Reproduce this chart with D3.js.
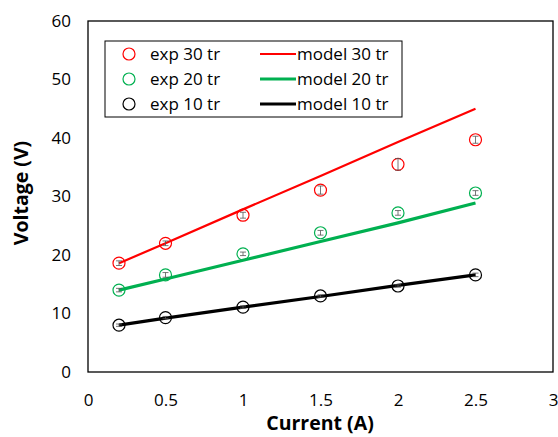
<!DOCTYPE html>
<html>
<head>
<meta charset="utf-8">
<script src="https://cdn.jsdelivr.net/npm/d3@7"></script>
<style>
body { margin: 0; background: #fff; }
text { font-family: "Open Sans", "Liberation Sans", sans-serif; fill: #000; }
</style>
</head>
<body>
<div id="chart"></div>
<script>
const currents = [0.2, 0.5, 1, 1.5, 2, 2.5];
const exp30 = [18.6, 22.0, 26.8, 31.1, 35.5, 39.7];
const exp20 = [14.0, 16.6, 20.2, 23.8, 27.2, 30.6];
const exp10 = [8.0, 9.3, 11.1, 13.0, 14.7, 16.6];
const err30 = [0.4, 0.4, 0.5, 0.7, 1.0, 0.6];
const err20 = [0.3, 0.4, 0.3, 0.4, 0.4, 0.4];
const err10 = [0.2, 0.2, 0.2, 0.2, 0.2, 0.3];
const model30 = [18.6, 22.0, 27.8, 33.5, 39.3, 45.0];
const model20 = [14.0, 15.9, 19.1, 22.3, 25.5, 28.9];
const model10 = [8.0, 9.2, 11.1, 12.9, 14.8, 16.6];
const xTicks = [0, 0.5, 1, 1.5, 2, 2.5, 3];
const yTicks = [0, 10, 20, 30, 40, 50, 60];

const series = [
	{ name: '30 tr', color: '#ff0000', width: 2.2, exp: exp30, err: err30, model: model30 },
	{ name: '20 tr', color: '#00b050', width: 3.2, exp: exp20, err: err20, model: model20 },
	{ name: '10 tr', color: '#000000', width: 3.2, exp: exp10, err: err10, model: model10 }
];

const svg = d3.select('#chart')
	.append('svg')
	.attr('width', 558)
	.attr('height', 437);

const x = d3.scaleLinear().domain([0, 3]).range([88, 553]);
const y = d3.scaleLinear().domain([0, 60]).range([372, 21]);

// frame
svg.append('rect')
	.attr('x', x(0)).attr('y', y(60))
	.attr('width', x(3) - x(0)).attr('height', y(0) - y(60))
	.attr('fill', 'none').attr('stroke', '#000').attr('stroke-width', 1.3);

// tick labels
svg.append('g')
	.attr('transform', `translate(0,${y(0)})`)
	.call(d3.axisBottom(x).tickValues(xTicks).tickSize(0).tickPadding(22).tickFormat(d3.format('')))
	.call(g => g.select('.domain').remove())
	.selectAll('text').style('font-size', '17px').style('font-family', '"Open Sans", sans-serif');

svg.append('g')
	.attr('transform', `translate(${x(0)},0)`)
	.call(d3.axisLeft(y).tickValues(yTicks).tickSize(0).tickPadding(17))
	.call(g => g.select('.domain').remove())
	.selectAll('text').style('font-size', '17px').style('font-family', '"Open Sans", sans-serif');

// axis titles
svg.append('text')
	.attr('x', 320).attr('y', 430)
	.attr('text-anchor', 'middle')
	.style('font-size', '19.5px').style('font-weight', 'bold')
	.text('Current (A)');

svg.append('text')
	.attr('transform', 'translate(28,193) rotate(-90)')
	.attr('text-anchor', 'middle')
	.style('font-size', '19.5px').style('font-weight', 'bold')
	.text('Voltage (V)');

const line = d3.line().x(d => x(d[0])).y(d => y(d[1]));

series.forEach(s => {
	svg.append('path')
		.datum(currents.map((c, i) => [c, s.model[i]]))
		.attr('d', line)
		.attr('fill', 'none')
		.attr('stroke', s.color)
		.attr('stroke-width', s.width);

	const pts = svg.append('g').selectAll('g')
		.data(currents.map((c, i) => ({ c: c, v: s.exp[i], e: s.err[i] })))
		.enter().append('g');

	pts.append('circle')
		.attr('cx', d => x(d.c)).attr('cy', d => y(d.v))
		.attr('r', 6)
		.attr('fill', 'none')
		.attr('stroke', s.color)
		.attr('stroke-width', 1.2);

	pts.append('path')
		.attr('d', d => {
			const cx = x(d.c), y1 = y(d.v + d.e), y2 = y(d.v - d.e);
			return `M${cx - 3},${y1}H${cx + 3}M${cx},${y1}V${y2}M${cx - 3},${y2}H${cx + 3}`;
		})
		.attr('fill', 'none')
		.attr('stroke', '#555')
		.attr('stroke-width', 0.8);
});

// legend
const legend = svg.append('g');
legend.append('rect')
	.attr('x', 105).attr('y', 41)
	.attr('width', 297).attr('height', 76)
	.attr('fill', '#fff').attr('stroke', '#000').attr('stroke-width', 1);

series.forEach((s, i) => {
	const ly = 54 + i * 25;
	legend.append('circle')
		.attr('cx', 129).attr('cy', ly).attr('r', 6)
		.attr('fill', 'none').attr('stroke', s.color).attr('stroke-width', 1.2);
	legend.append('text')
		.attr('x', 150).attr('y', ly + 6)
		.style('font-size', '17px')
		.text('exp ' + s.name);
	legend.append('line')
		.attr('x1', 260).attr('x2', 296).attr('y1', ly).attr('y2', ly)
		.attr('stroke', s.color).attr('stroke-width', s.width);
	legend.append('text')
		.attr('x', 297).attr('y', ly + 6)
		.style('font-size', '17px')
		.text('model ' + s.name);
});
</script>
</body>
</html>
